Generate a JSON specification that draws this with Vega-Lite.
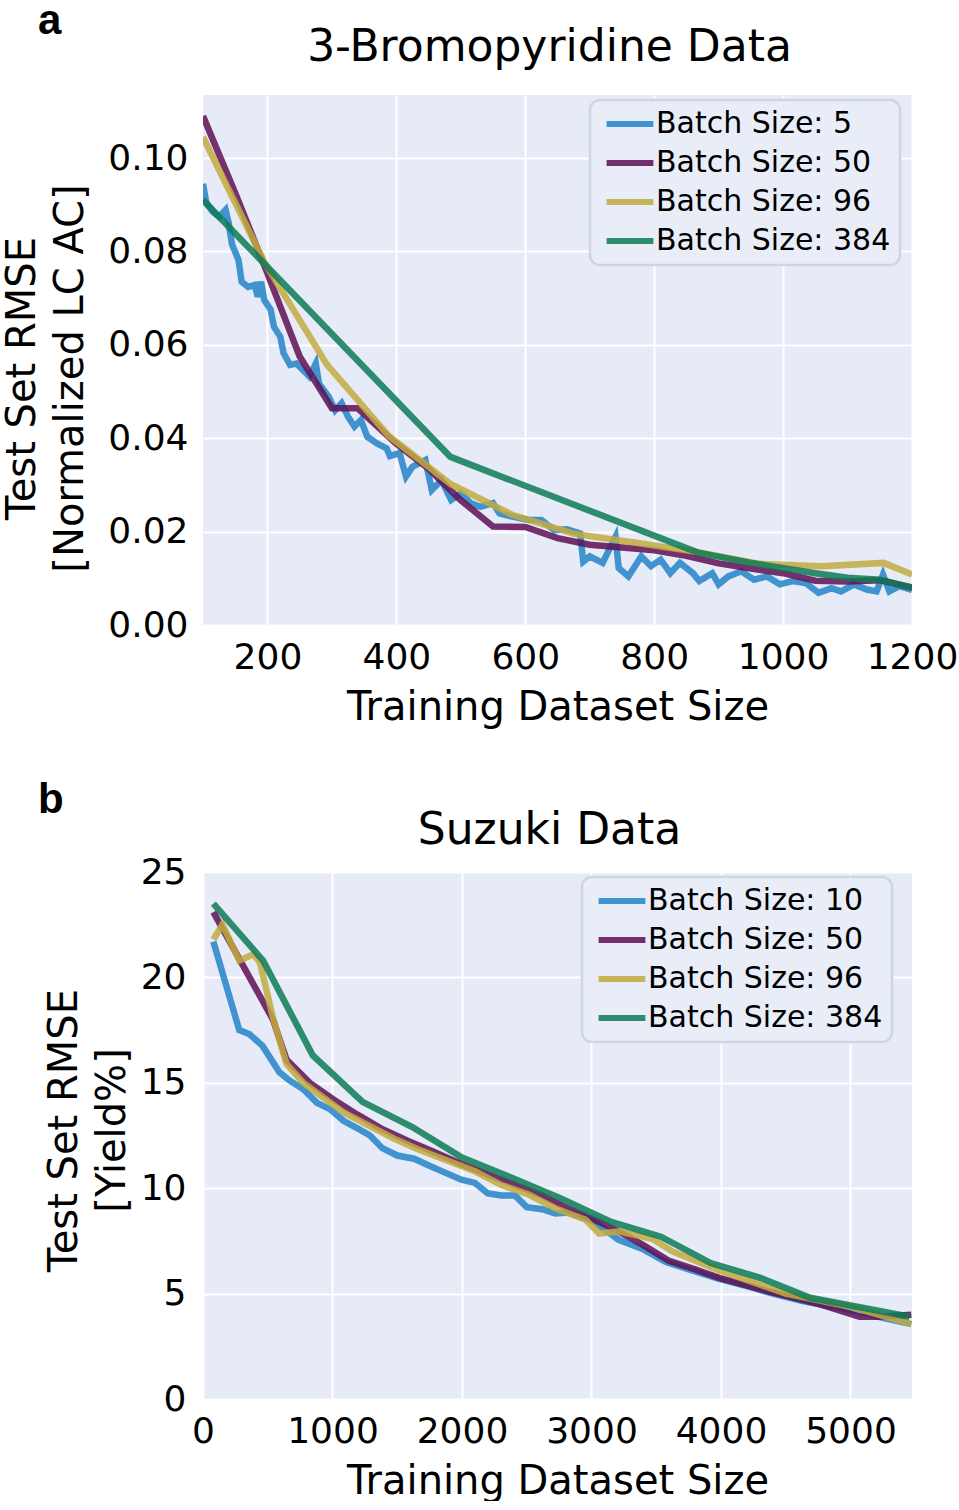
{
  "$schema": "https://vega.github.io/schema/vega-lite/v6.json",
  "background": "white",
  "padding": {"left": 2, "top": 0, "right": 0, "bottom": 0},
  "bounds": "flush",
  "spacing": 777,
  "resolve": {"scale": {"color": "independent"}, "legend": {"color": "independent"}},
  "config": {
    "view": {"fill": "#e7ebf8", "stroke": null},
    "axis": {
      "domain": false,
      "ticks": false,
      "gridColor": "#ffffff",
      "gridWidth": 2,
      "labelFont": "DejaVu Sans",
      "labelFontSize": 36,
      "labelColor": "#000000",
      "titleFont": "DejaVu Sans",
      "titleFontSize": 40,
      "titleFontWeight": "normal",
      "titleColor": "#000000",
      "labelFlush": false,
      "labelOverlap": false
    },
    "axisX": {"labelPadding": 15, "titlePadding": 12},
    "axisY": {"labelPadding": 15, "titleLineHeight": 48},
    "title": {"font": "DejaVu Sans", "fontSize": 44, "fontWeight": "normal", "color": "#000000"},
    "legend": {
      "fillColor": "#e9edf8",
      "strokeColor": "#cdd6e2",
      "strokeWidth": 2.5,
      "cornerRadius": 10,
      "padding": 9,
      "labelFont": "DejaVu Sans",
      "labelFontSize": 30,
      "labelColor": "#000000",
      "labelLimit": 0,
      "symbolSize": 324,
      "symbolStrokeWidth": 6,
      "symbolOpacity": 0.85,
      "symbolOffset": 16,
      "labelOffset": 11,
      "rowPadding": 9
    }
  },
  "vconcat": [
    {
      "title": {"text": "a", "anchor": "start", "frame": "group", "dx": -165, "font": "Liberation Sans", "fontWeight": "bold", "fontSize": 42, "offset": -17},
      "bounds": "flush",
      "resolve": {"legend": {"color": "independent"}},
      "vconcat": [
        {
          "title": {"text": "3-Bromopyridine Data", "dx": -8, "offset": 25},
          "width": 709,
          "height": 530,
          "data": {"values": [
            {"batch": 5, "size": 100, "rmse": 0.0945}, {"batch": 5, "size": 105, "rmse": 0.0905}, {"batch": 5, "size": 115, "rmse": 0.0885},
            {"batch": 5, "size": 125, "rmse": 0.0874}, {"batch": 5, "size": 135, "rmse": 0.0889}, {"batch": 5, "size": 140, "rmse": 0.0860},
            {"batch": 5, "size": 145, "rmse": 0.0815}, {"batch": 5, "size": 155, "rmse": 0.0782}, {"batch": 5, "size": 160, "rmse": 0.0735},
            {"batch": 5, "size": 170, "rmse": 0.0724}, {"batch": 5, "size": 180, "rmse": 0.0728}, {"batch": 5, "size": 185, "rmse": 0.0703},
            {"batch": 5, "size": 190, "rmse": 0.0735}, {"batch": 5, "size": 195, "rmse": 0.0696}, {"batch": 5, "size": 205, "rmse": 0.0675},
            {"batch": 5, "size": 210, "rmse": 0.0639}, {"batch": 5, "size": 220, "rmse": 0.0617}, {"batch": 5, "size": 225, "rmse": 0.0582},
            {"batch": 5, "size": 235, "rmse": 0.0557}, {"batch": 5, "size": 245, "rmse": 0.0560}, {"batch": 5, "size": 255, "rmse": 0.0546},
            {"batch": 5, "size": 265, "rmse": 0.0532}, {"batch": 5, "size": 275, "rmse": 0.0560}, {"batch": 5, "size": 280, "rmse": 0.0517},
            {"batch": 5, "size": 295, "rmse": 0.0489}, {"batch": 5, "size": 305, "rmse": 0.0460}, {"batch": 5, "size": 315, "rmse": 0.0475},
            {"batch": 5, "size": 325, "rmse": 0.0446}, {"batch": 5, "size": 335, "rmse": 0.0425}, {"batch": 5, "size": 345, "rmse": 0.0439},
            {"batch": 5, "size": 355, "rmse": 0.0403}, {"batch": 5, "size": 370, "rmse": 0.0389}, {"batch": 5, "size": 385, "rmse": 0.0378},
            {"batch": 5, "size": 390, "rmse": 0.0362}, {"batch": 5, "size": 405, "rmse": 0.0368}, {"batch": 5, "size": 415, "rmse": 0.0318},
            {"batch": 5, "size": 425, "rmse": 0.0339}, {"batch": 5, "size": 445, "rmse": 0.0353}, {"batch": 5, "size": 455, "rmse": 0.0289},
            {"batch": 5, "size": 470, "rmse": 0.0310}, {"batch": 5, "size": 485, "rmse": 0.0268}, {"batch": 5, "size": 500, "rmse": 0.0282},
            {"batch": 5, "size": 515, "rmse": 0.0261}, {"batch": 5, "size": 530, "rmse": 0.0253}, {"batch": 5, "size": 550, "rmse": 0.0261},
            {"batch": 5, "size": 560, "rmse": 0.0239}, {"batch": 5, "size": 580, "rmse": 0.0232}, {"batch": 5, "size": 605, "rmse": 0.0225},
            {"batch": 5, "size": 625, "rmse": 0.0225}, {"batch": 5, "size": 645, "rmse": 0.0203}, {"batch": 5, "size": 665, "rmse": 0.0205},
            {"batch": 5, "size": 685, "rmse": 0.0196}, {"batch": 5, "size": 690, "rmse": 0.0136}, {"batch": 5, "size": 700, "rmse": 0.0147},
            {"batch": 5, "size": 720, "rmse": 0.0133}, {"batch": 5, "size": 740, "rmse": 0.0189}, {"batch": 5, "size": 745, "rmse": 0.0122},
            {"batch": 5, "size": 760, "rmse": 0.0104}, {"batch": 5, "size": 780, "rmse": 0.0147}, {"batch": 5, "size": 795, "rmse": 0.0126},
            {"batch": 5, "size": 810, "rmse": 0.0140}, {"batch": 5, "size": 825, "rmse": 0.0111}, {"batch": 5, "size": 840, "rmse": 0.0133},
            {"batch": 5, "size": 860, "rmse": 0.0111}, {"batch": 5, "size": 870, "rmse": 0.0094}, {"batch": 5, "size": 890, "rmse": 0.0111},
            {"batch": 5, "size": 900, "rmse": 0.0087}, {"batch": 5, "size": 915, "rmse": 0.0104}, {"batch": 5, "size": 935, "rmse": 0.0115},
            {"batch": 5, "size": 955, "rmse": 0.0097}, {"batch": 5, "size": 975, "rmse": 0.0104}, {"batch": 5, "size": 995, "rmse": 0.0087},
            {"batch": 5, "size": 1015, "rmse": 0.0094}, {"batch": 5, "size": 1035, "rmse": 0.0090}, {"batch": 5, "size": 1055, "rmse": 0.0069},
            {"batch": 5, "size": 1075, "rmse": 0.0079}, {"batch": 5, "size": 1090, "rmse": 0.0072}, {"batch": 5, "size": 1110, "rmse": 0.0087},
            {"batch": 5, "size": 1130, "rmse": 0.0076}, {"batch": 5, "size": 1145, "rmse": 0.0072}, {"batch": 5, "size": 1155, "rmse": 0.0108},
            {"batch": 5, "size": 1165, "rmse": 0.0072}, {"batch": 5, "size": 1180, "rmse": 0.0083}, {"batch": 5, "size": 1200, "rmse": 0.0075},
            {"batch": 50, "size": 100, "rmse": 0.1090}, {"batch": 50, "size": 150, "rmse": 0.0925}, {"batch": 50, "size": 200, "rmse": 0.0753},
            {"batch": 50, "size": 250, "rmse": 0.0575}, {"batch": 50, "size": 300, "rmse": 0.0464}, {"batch": 50, "size": 340, "rmse": 0.0464},
            {"batch": 50, "size": 400, "rmse": 0.0388}, {"batch": 50, "size": 450, "rmse": 0.0335}, {"batch": 50, "size": 500, "rmse": 0.0267},
            {"batch": 50, "size": 550, "rmse": 0.0211}, {"batch": 50, "size": 600, "rmse": 0.0210}, {"batch": 50, "size": 650, "rmse": 0.0186},
            {"batch": 50, "size": 700, "rmse": 0.0172}, {"batch": 50, "size": 750, "rmse": 0.0166}, {"batch": 50, "size": 800, "rmse": 0.0160},
            {"batch": 50, "size": 850, "rmse": 0.0148}, {"batch": 50, "size": 900, "rmse": 0.0132}, {"batch": 50, "size": 950, "rmse": 0.0121},
            {"batch": 50, "size": 1000, "rmse": 0.0111}, {"batch": 50, "size": 1050, "rmse": 0.0095}, {"batch": 50, "size": 1100, "rmse": 0.0093},
            {"batch": 50, "size": 1150, "rmse": 0.0096}, {"batch": 50, "size": 1200, "rmse": 0.0080},
            {"batch": 96, "size": 100, "rmse": 0.1045}, {"batch": 96, "size": 196, "rmse": 0.0775}, {"batch": 96, "size": 292, "rmse": 0.0558},
            {"batch": 96, "size": 388, "rmse": 0.0405}, {"batch": 96, "size": 484, "rmse": 0.0302}, {"batch": 96, "size": 580, "rmse": 0.0236},
            {"batch": 96, "size": 676, "rmse": 0.0195}, {"batch": 96, "size": 772, "rmse": 0.0176}, {"batch": 96, "size": 868, "rmse": 0.0156},
            {"batch": 96, "size": 964, "rmse": 0.0131}, {"batch": 96, "size": 1060, "rmse": 0.0126}, {"batch": 96, "size": 1156, "rmse": 0.0133},
            {"batch": 96, "size": 1200, "rmse": 0.0108},
            {"batch": 384, "size": 100, "rmse": 0.0910}, {"batch": 384, "size": 484, "rmse": 0.0360}, {"batch": 384, "size": 868, "rmse": 0.0155},
            {"batch": 384, "size": 950, "rmse": 0.0133}, {"batch": 384, "size": 1050, "rmse": 0.0111}, {"batch": 384, "size": 1100, "rmse": 0.0101},
            {"batch": 384, "size": 1150, "rmse": 0.0097}, {"batch": 384, "size": 1200, "rmse": 0.0080}
          ]},
          "mark": {"type": "line", "strokeWidth": 6.5, "opacity": 0.85, "clip": true},
          "encoding": {
            "x": {
              "field": "size",
              "type": "quantitative",
              "scale": {"domain": [100, 1200], "nice": false, "zero": false},
              "axis": {"values": [200, 400, 600, 800, 1000, 1200], "format": "d", "title": "Training Dataset Size"}
            },
            "y": {
              "field": "rmse",
              "type": "quantitative",
              "scale": {"domain": [0, 0.1135], "nice": false},
              "axis": {
                "values": [0, 0.02, 0.04, 0.06, 0.08, 0.1],
                "format": ".2f",
                "title": ["Test Set RMSE", "[Normalized LC AC]"],
                "minExtent": 95,
                "maxExtent": 95,
                "titlePadding": 18,
                "titleY": 283
              }
            },
            "color": {
              "field": "batch",
              "type": "nominal",
              "scale": {"domain": [5, 50, 96, 384], "range": ["#2284c8", "#5e0f55", "#c2aa3e", "#0d7b56"]},
              "legend": {"title": null, "orient": "none", "legendX": 387, "legendY": 5, "labelExpr": "'Batch Size: ' + datum.label", "symbolType": "M-2.6,0H2.6", "symbolStrokeWidth": 6}
            }
          }
        }
      ]
    },
    {
      "title": {"text": "b", "anchor": "start", "frame": "group", "dx": -165, "font": "Liberation Sans", "fontWeight": "bold", "fontSize": 42, "offset": -13},
      "bounds": "flush",
      "resolve": {"legend": {"color": "independent"}},
      "vconcat": [
        {
          "title": {"text": "Suzuki Data", "dx": -8, "offset": 1},
          "width": 709,
          "height": 527,
          "data": {"values": [
            {"batch": 10, "size": 80, "rmse": 21.7}, {"batch": 10, "size": 280, "rmse": 17.5}, {"batch": 10, "size": 360, "rmse": 17.3},
            {"batch": 10, "size": 460, "rmse": 16.75}, {"batch": 10, "size": 590, "rmse": 15.5}, {"batch": 10, "size": 670, "rmse": 15.1},
            {"batch": 10, "size": 775, "rmse": 14.7}, {"batch": 10, "size": 880, "rmse": 14.05}, {"batch": 10, "size": 980, "rmse": 13.75},
            {"batch": 10, "size": 1085, "rmse": 13.2}, {"batch": 10, "size": 1190, "rmse": 12.85}, {"batch": 10, "size": 1290, "rmse": 12.5},
            {"batch": 10, "size": 1385, "rmse": 11.9}, {"batch": 10, "size": 1500, "rmse": 11.55}, {"batch": 10, "size": 1630, "rmse": 11.4},
            {"batch": 10, "size": 1735, "rmse": 11.1}, {"batch": 10, "size": 1865, "rmse": 10.75}, {"batch": 10, "size": 1995, "rmse": 10.4},
            {"batch": 10, "size": 2100, "rmse": 10.25}, {"batch": 10, "size": 2200, "rmse": 9.75}, {"batch": 10, "size": 2305, "rmse": 9.65},
            {"batch": 10, "size": 2410, "rmse": 9.65}, {"batch": 10, "size": 2500, "rmse": 9.1}, {"batch": 10, "size": 2620, "rmse": 9.0},
            {"batch": 10, "size": 2720, "rmse": 8.8}, {"batch": 10, "size": 2825, "rmse": 8.85}, {"batch": 10, "size": 3010, "rmse": 8.45},
            {"batch": 10, "size": 3210, "rmse": 7.55}, {"batch": 10, "size": 3400, "rmse": 7.1}, {"batch": 10, "size": 3575, "rmse": 6.5},
            {"batch": 10, "size": 3800, "rmse": 6.05}, {"batch": 10, "size": 3985, "rmse": 5.7}, {"batch": 10, "size": 4200, "rmse": 5.35},
            {"batch": 10, "size": 4400, "rmse": 5.0}, {"batch": 10, "size": 4630, "rmse": 4.65}, {"batch": 10, "size": 4800, "rmse": 4.45},
            {"batch": 10, "size": 5020, "rmse": 4.2}, {"batch": 10, "size": 5250, "rmse": 3.85}, {"batch": 10, "size": 5470, "rmse": 3.55},
            {"batch": 50, "size": 80, "rmse": 23.1}, {"batch": 50, "size": 540, "rmse": 18.0}, {"batch": 50, "size": 645, "rmse": 16.1},
            {"batch": 50, "size": 825, "rmse": 15.0}, {"batch": 50, "size": 1010, "rmse": 14.2}, {"batch": 50, "size": 1190, "rmse": 13.5},
            {"batch": 50, "size": 1370, "rmse": 12.85}, {"batch": 50, "size": 1580, "rmse": 12.25}, {"batch": 50, "size": 1790, "rmse": 11.7},
            {"batch": 50, "size": 1995, "rmse": 11.15}, {"batch": 50, "size": 2200, "rmse": 10.65}, {"batch": 50, "size": 2410, "rmse": 10.15},
            {"batch": 50, "size": 2620, "rmse": 9.65}, {"batch": 50, "size": 2830, "rmse": 9.0}, {"batch": 50, "size": 3060, "rmse": 8.4},
            {"batch": 50, "size": 3210, "rmse": 7.95}, {"batch": 50, "size": 3400, "rmse": 7.3}, {"batch": 50, "size": 3600, "rmse": 6.55},
            {"batch": 50, "size": 3800, "rmse": 6.15}, {"batch": 50, "size": 3985, "rmse": 5.75}, {"batch": 50, "size": 4370, "rmse": 5.1},
            {"batch": 50, "size": 4760, "rmse": 4.5}, {"batch": 50, "size": 5070, "rmse": 3.9}, {"batch": 50, "size": 5220, "rmse": 3.9},
            {"batch": 50, "size": 5470, "rmse": 4.0},
            {"batch": 96, "size": 80, "rmse": 21.8}, {"batch": 96, "size": 150, "rmse": 22.5}, {"batch": 96, "size": 280, "rmse": 20.8},
            {"batch": 96, "size": 390, "rmse": 21.1}, {"batch": 96, "size": 440, "rmse": 20.7}, {"batch": 96, "size": 540, "rmse": 18.1},
            {"batch": 96, "size": 645, "rmse": 15.9}, {"batch": 96, "size": 775, "rmse": 15.0}, {"batch": 96, "size": 930, "rmse": 14.3},
            {"batch": 96, "size": 1085, "rmse": 13.6}, {"batch": 96, "size": 1270, "rmse": 13.0}, {"batch": 96, "size": 1475, "rmse": 12.35},
            {"batch": 96, "size": 1660, "rmse": 11.85}, {"batch": 96, "size": 1890, "rmse": 11.3}, {"batch": 96, "size": 2100, "rmse": 10.8},
            {"batch": 96, "size": 2305, "rmse": 10.15}, {"batch": 96, "size": 2515, "rmse": 9.7}, {"batch": 96, "size": 2720, "rmse": 9.05},
            {"batch": 96, "size": 2955, "rmse": 8.5}, {"batch": 96, "size": 3060, "rmse": 7.85}, {"batch": 96, "size": 3210, "rmse": 7.95},
            {"batch": 96, "size": 3470, "rmse": 7.6}, {"batch": 96, "size": 3625, "rmse": 7.0}, {"batch": 96, "size": 3985, "rmse": 6.1},
            {"batch": 96, "size": 4500, "rmse": 5.0}, {"batch": 96, "size": 5020, "rmse": 4.35}, {"batch": 96, "size": 5470, "rmse": 3.55},
            {"batch": 384, "size": 80, "rmse": 23.5}, {"batch": 384, "size": 464, "rmse": 20.8}, {"batch": 384, "size": 848, "rmse": 16.3},
            {"batch": 384, "size": 1232, "rmse": 14.1}, {"batch": 384, "size": 1616, "rmse": 12.9}, {"batch": 384, "size": 2000, "rmse": 11.45},
            {"batch": 384, "size": 2384, "rmse": 10.5}, {"batch": 384, "size": 2768, "rmse": 9.5}, {"batch": 384, "size": 3152, "rmse": 8.4},
            {"batch": 384, "size": 3536, "rmse": 7.7}, {"batch": 384, "size": 3920, "rmse": 6.45}, {"batch": 384, "size": 4304, "rmse": 5.75},
            {"batch": 384, "size": 4688, "rmse": 4.8}, {"batch": 384, "size": 5072, "rmse": 4.35}, {"batch": 384, "size": 5456, "rmse": 3.9}
          ]},
          "mark": {"type": "line", "strokeWidth": 6.5, "opacity": 0.85, "clip": true},
          "encoding": {
            "x": {
              "field": "size",
              "type": "quantitative",
              "scale": {"domain": [0, 5475], "nice": false},
              "axis": {"values": [0, 1000, 2000, 3000, 4000, 5000], "format": "d", "title": "Training Dataset Size"}
            },
            "y": {
              "field": "rmse",
              "type": "quantitative",
              "scale": {"domain": [0, 25], "nice": false},
              "axis": {
                "values": [0, 5, 10, 15, 20, 25],
                "title": ["Test Set RMSE", "[Yield%]"],
                "labelPadding": 17,
                "minExtent": 63,
                "maxExtent": 63,
                "titlePadding": 8,
                "titleY": 258
              }
            },
            "color": {
              "field": "batch",
              "type": "nominal",
              "scale": {"domain": [10, 50, 96, 384], "range": ["#2284c8", "#5e0f55", "#c2aa3e", "#0d7b56"]},
              "legend": {"title": null, "orient": "none", "legendX": 379, "legendY": 5, "labelExpr": "'Batch Size: ' + datum.label", "symbolType": "M-2.6,0H2.6", "symbolStrokeWidth": 6}
            }
          }
        }
      ]
    }
  ]
}
